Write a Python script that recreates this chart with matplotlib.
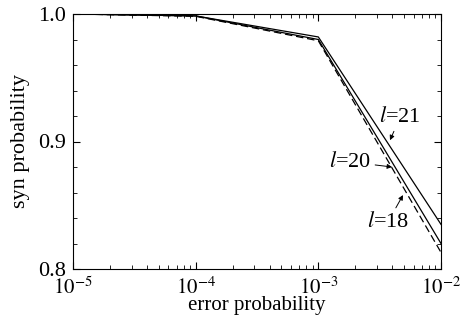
import numpy as np
import matplotlib
matplotlib.use('Agg')
import matplotlib.pyplot as plt
from matplotlib.ticker import LogLocator, MultipleLocator, FixedLocator

plt.rcParams['font.family'] = ['Liberation Serif', 'DejaVu Serif']
plt.rcParams['mathtext.fontset'] = 'stix'

err = [1e-5, 1e-4, 1e-3, 1e-2]
syn_l21 = [1.0, 0.9985, 0.982, 0.835]
syn_l20 = [1.0, 0.9985, 0.980, 0.820]
syn_l18 = [1.0, 0.9982, 0.979, 0.813]

fig = plt.figure(figsize=(4.63, 3.21), dpi=100)
ax = fig.add_axes([73 / 463, 52 / 321, 368 / 463, 255 / 321])

ax.plot(err, syn_l21, 'k-', lw=0.9)
ax.plot(err, syn_l20, 'k-', lw=0.9)
ax.plot(err, syn_l18, 'k--', lw=0.9, dashes=(6, 3))

ax.set_xscale('log')
ax.set_xlim(1e-5, 1e-2)
ax.set_ylim(0.8, 1.0)
ax.xaxis.set_major_locator(FixedLocator([1e-5, 1e-4, 1e-3, 1e-2]))
ax.xaxis.set_minor_locator(LogLocator(base=10, subs=np.arange(2, 10)))
ax.set_xticklabels([r'$10^{-5}$', r'$10^{-4}$', r'$10^{-3}$', r'$10^{-2}$'])
ax.set_yticks([0.8, 0.9, 1.0])
ax.set_yticklabels(['0.8', '0.9', '1.0'])
ax.yaxis.set_minor_locator(MultipleLocator(0.02))
ax.tick_params(which='both', direction='in', top=True, right=True)
ax.tick_params(which='major', length=5)
ax.tick_params(which='minor', length=3)
ax.tick_params(axis='x', pad=6, labelsize=15)
ax.tick_params(axis='y', pad=5, labelsize=16)

ax.set_xlabel('error probability', fontsize=15, labelpad=-2)
ax.set_ylabel('syn probability', fontsize=16, labelpad=6)

arrow = dict(arrowstyle='-|>', color='k', lw=0.7, mutation_scale=7,
             shrinkA=1, shrinkB=0)
ax.annotate(r'$\mathit{l}$=21', xy=(3.84e-3, 0.901), xytext=(4.64e-3, 0.919),
            fontsize=16, ha='center', va='center', arrowprops=arrow)
ax.annotate(r'$\mathit{l}$=20', xy=(3.99e-3, 0.880), xytext=(1.81e-3, 0.884),
            fontsize=16, ha='center', va='center', arrowprops=arrow)
ax.annotate(r'$\mathit{l}$=18', xy=(4.9e-3, 0.858), xytext=(3.7e-3, 0.837),
            fontsize=16, ha='center', va='center', arrowprops=arrow)

fig.savefig('out.png', dpi=100)
